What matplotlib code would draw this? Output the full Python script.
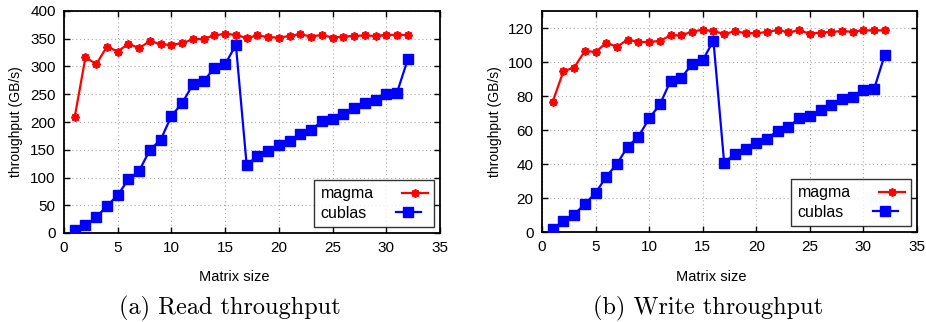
import matplotlib
matplotlib.use("Agg")
import matplotlib.pyplot as plt

sizes = list(range(1, 33))

read_magma = [209, 317, 304, 336, 327, 341, 333, 346, 340, 339, 342, 349, 350, 356, 359, 357,
              351, 356, 353, 352, 355, 358, 354, 357, 352, 354, 355, 356, 355, 357, 357, 357]
read_cublas = [5, 14, 28, 49, 68, 97, 112, 150, 168, 211, 234, 268, 274, 297, 304, 339,
               123, 138, 147, 158, 165, 179, 186, 201, 205, 214, 225, 234, 240, 250, 253, 313]

write_magma = [76.6, 94.6, 96.7, 106.5, 105.9, 111.2, 109.0, 113.2, 111.8, 111.8, 112.4, 115.7,
               115.7, 117.8, 119.0, 118.2, 116.5, 118.0, 117.1, 116.9, 117.7, 118.8, 117.5, 118.6,
               116.7, 117.3, 117.7, 118.2, 117.8, 118.6, 118.6, 118.6]
write_cublas = [1.8, 6.3, 10.2, 16.6, 22.9, 32.6, 40.1, 50.2, 56.1, 66.8, 75.0, 88.9, 90.7, 98.7,
                101.0, 112.6, 40.8, 45.9, 48.9, 52.6, 54.9, 59.6, 61.9, 66.8, 68.4, 71.5, 74.9,
                78.0, 79.7, 83.4, 84.2, 104.4]

x_ticks = [0, 5, 10, 15, 20, 25, 30, 35]
read_yticks = [0, 50, 100, 150, 200, 250, 300, 350, 400]
write_yticks = [0, 20, 40, 60, 80, 100, 120]
captions = ["(a) Read throughput", "(b) Write throughput"]

plt.rcParams['font.family'] = ['Liberation Sans', 'DejaVu Sans']

fig = plt.figure(figsize=(9.26, 3.22), dpi=100)

ax1 = fig.add_axes([64/926, 89/322, 376/926, 222/322])
ax2 = fig.add_axes([542/926, 90/322, 375/926, 221/322])

asterisk = (8, 2, 0)

def style(ax, magma, cublas, yticks, ylim):
    ax.plot(sizes, magma, color='#ff0000', lw=1.6, marker=asterisk, ms=6, mew=1.3,
            label='magma', zorder=3)
    ax.plot(sizes, cublas, color='#0000ff', lw=1.6, marker='s', ms=6.5,
            label='cublas', zorder=3)
    ax.set_xlim(0, 35)
    ax.set_ylim(*ylim)
    ax.set_xticks(x_ticks)
    ax.set_yticks(yticks)
    ax.grid(True, linestyle=(0, (1, 2.5)), color='#aaaaaa', lw=0.8)
    ax.tick_params(direction='in', top=True, right=True, length=4, width=1,
                   labelsize=11, pad=6)
    for s in ax.spines.values():
        s.set_linewidth(1.3)
    leg = ax.legend(loc='lower right', markerfirst=False, fontsize=11.5,
                    frameon=True, fancybox=False, edgecolor='black',
                    handlelength=1.6, borderpad=0.4, labelspacing=0.3,
                    handletextpad=1.8, borderaxespad=0.35)
    leg.get_frame().set_linewidth(1.0)
    for col in leg._legend_handle_box.get_children():
        col.align = 'left'

style(ax1, read_magma, read_cublas, read_yticks, (0, 400))
style(ax2, write_magma, write_cublas, write_yticks, (0, 130))

fig.text(16/926, 1 - 122/322, 'throughput (GB/s)', rotation=90, ha='center', va='center', fontsize=10)
fig.text(495/926, 1 - 122/322, 'throughput (GB/s)', rotation=90, ha='center', va='center', fontsize=10)
fig.text(234/926, 1 - 277/322, 'Matrix size', ha='center', va='center', fontsize=10.5)
fig.text(711/926, 1 - 277/322, 'Matrix size', ha='center', va='center', fontsize=10.5)

fig.text(230/926, 1 - 308/322, captions[0], ha='center', va='center', fontsize=17.5, family='cmr10')
fig.text(708/926, 1 - 308/322, captions[1], ha='center', va='center', fontsize=17.5, family='cmr10')

fig.savefig('out.png', dpi=100)
